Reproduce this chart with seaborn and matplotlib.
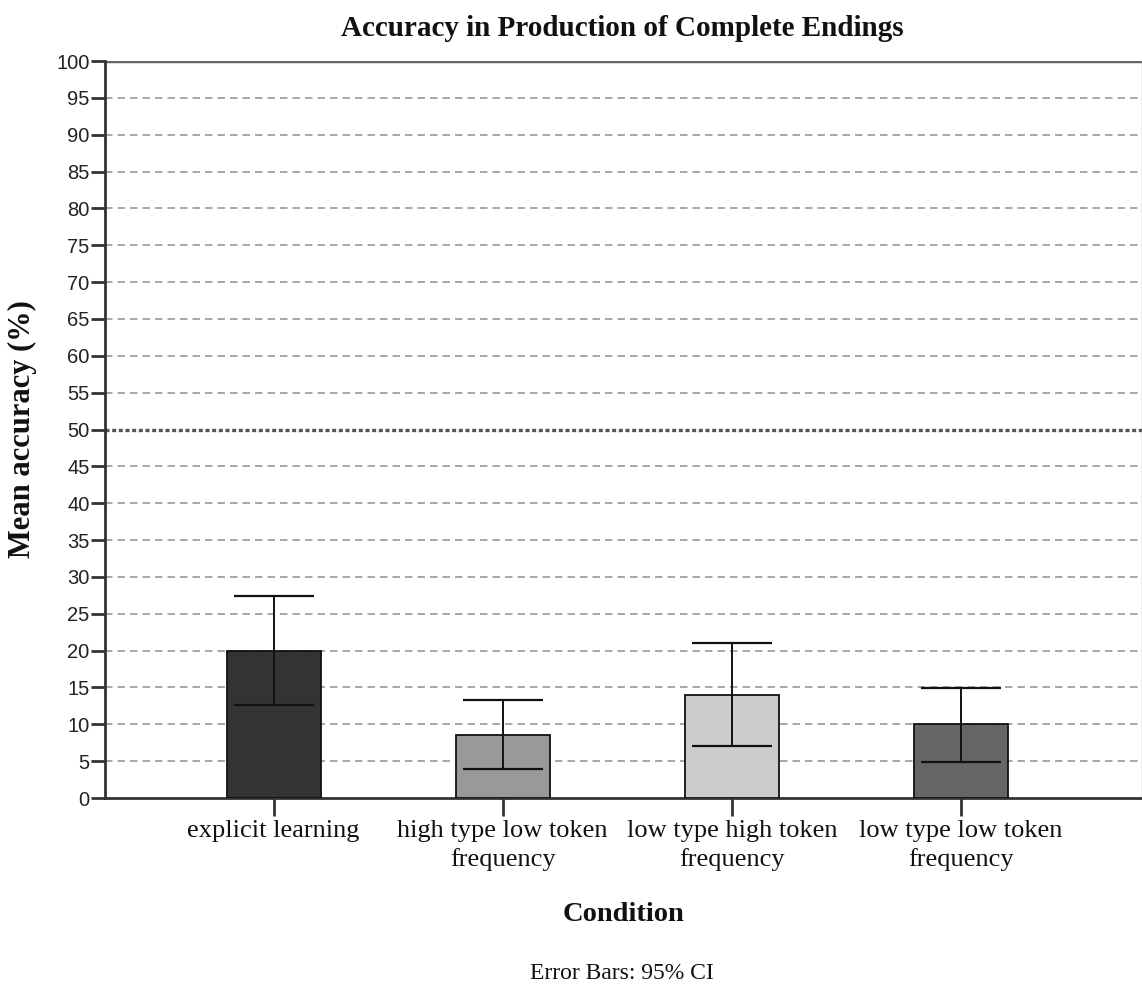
import matplotlib
matplotlib.use("Agg")
import matplotlib.pyplot as plt
import seaborn as sns
import numpy as np
import pandas as pd

conditions = ["explicit learning", "high type low token\nfrequency",
              "low type high token\nfrequency", "low type low token\nfrequency"]
means = [20.0, 8.6, 14.0, 10.0]
ci_low = [12.6, 4.0, 7.1, 4.9]
ci_high = [27.4, 13.3, 21.0, 14.9]
bar_colors = ["#333333", "#999999", "#cccccc", "#666666"]
yticks = list(range(0, 101, 5))

sns.set_theme(style="white")
plt.rcParams['font.family'] = ['Liberation Serif', 'DejaVu Serif']

fig = plt.figure(figsize=(11.42, 9.88), dpi=100)
ax = fig.add_axes([105/1142, 1-798/988, (1141.5-105)/1142, (798-61)/988])

df = pd.DataFrame({"Condition": conditions, "Mean": means})
sns.barplot(data=df, x="Condition", y="Mean", hue="Condition", palette=bar_colors,
            legend=False, errorbar=None, width=0.41, edgecolor="#111111",
            linewidth=1.3, ax=ax, zorder=3)

# gridlines
for v in yticks:
    if v == 50:
        ax.axhline(v, color="#555555", lw=2.4, ls=(0, (1.2, 0.8)), zorder=1)
    elif v in (0, 100):
        continue
    else:
        ax.axhline(v, color="#9a9a9a", lw=1.2, ls=(0, (4.5, 3)), zorder=1)
ax.axhline(100, color="#666666", lw=2.5, zorder=2)

m = np.array(means)
yerr = np.vstack([m - np.array(ci_low), np.array(ci_high) - m])
ax.errorbar(np.arange(len(means)), m, yerr=yerr, fmt="none", ecolor="#111111",
            elinewidth=1.4, capsize=29, capthick=1.6, zorder=4)

ax.set_ylim(0, 100)
ax.set_xlim(-0.736, 3.788)
ax.set_yticks(yticks)
ax.set_yticklabels([str(v) for v in yticks], fontfamily="Liberation Sans", fontsize=14.5,
                   color="#222222")
ax.set_xticks(range(4))
ax.set_xticklabels(conditions, fontsize=19, linespacing=1.32, color="#111111")

for s in ["left", "bottom"]:
    ax.spines[s].set_color("#333333")
    ax.spines[s].set_linewidth(2)
ax.spines["top"].set_visible(False)
ax.spines["right"].set_color("#aaaaaa")
ax.spines["right"].set_linewidth(1)
ax.tick_params(axis="y", length=10, width=2, color="#333333", pad=1, left=True)
ax.tick_params(axis="x", length=13, width=2, color="#333333", pad=3, bottom=True)

ax.set_ylabel("Mean accuracy (%)", fontsize=22, fontweight="bold", labelpad=14,
              color="#111111")
ax.set_xlabel("Condition", fontsize=20.5, fontweight="bold", labelpad=22,
              color="#111111")

fig.text(0.545, 1-28/988, "Accuracy in Production of Complete Endings", ha="center",
         va="center", fontsize=21, fontweight="bold", color="#111111")
fig.text(0.545, 1-973/988, "Error Bars: 95% CI", ha="center", va="center", fontsize=17,
         color="#111111")

fig.savefig("out.png", dpi=100, facecolor="white")
